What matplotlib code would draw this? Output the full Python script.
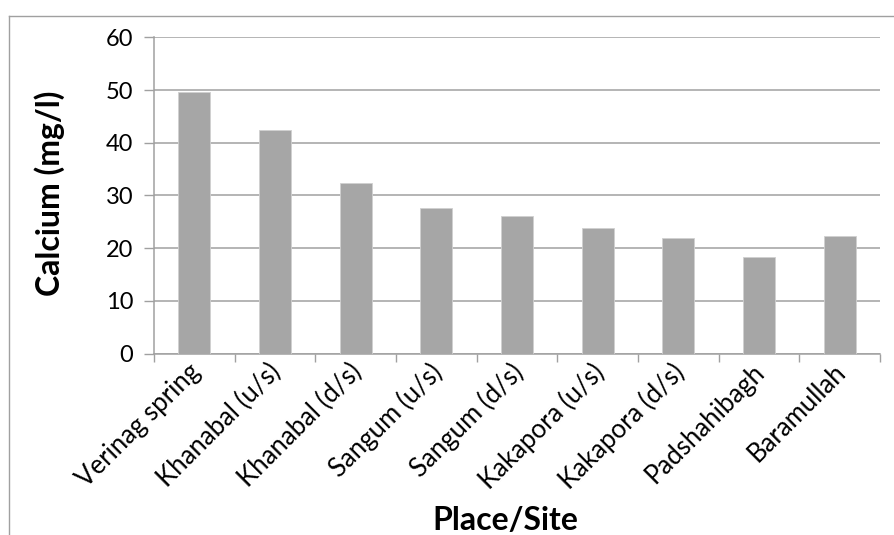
import matplotlib
matplotlib.use("Agg")
import matplotlib.pyplot as plt
from matplotlib.lines import Line2D

sites = ["Verinag spring", "Khanabal (u/s)", "Khanabal (d/s)", "Sangum (u/s)",
         "Sangum (d/s)", "Kakapora (u/s)", "Kakapora (d/s)", "Padshahibagh",
         "Baramullah"]
calcium = [49.6, 42.4, 32.3, 27.6, 26.1, 23.9, 21.9, 18.3, 22.3]
yticks = [0, 10, 20, 30, 40, 50, 60]

plt.rcParams['font.family'] = ['Lato', 'DejaVu Sans']

W, H = 895, 535
fig = plt.figure(figsize=(W / 100, H / 100), dpi=100)
ax = fig.add_axes([154 / W, 1 - 353.7 / H, (880 - 154) / W, (353.7 - 37.3) / H])

grid_c = "#A0A0A0"
x = list(range(len(sites)))
ax.bar(x, calcium, width=0.4, color="#A6A6A6", edgecolor="#D0D0D0",
       linewidth=0.6, zorder=3)

ax.set_xlim(-0.5, len(sites) - 0.5)
ax.set_ylim(0, 60)
ax.set_yticks(yticks)
ax.set_yticklabels([str(v) for v in yticks], fontsize=17)
ax.yaxis.grid(True, color=grid_c, linewidth=1.1, zorder=0)

# category boundary ticks on the x axis
ax.set_xticks([i - 0.5 for i in range(len(sites) + 1)])
ax.set_xticklabels([])
ax.tick_params(axis='x', length=6, width=1, color=grid_c, direction='out')
ax.tick_params(axis='y', length=7, width=1, color=grid_c, direction='out', pad=8)

for s in ['top', 'right']:
    ax.spines[s].set_visible(False)
for s in ['left', 'bottom']:
    ax.spines[s].set_color(grid_c)
    ax.spines[s].set_linewidth(1.1)

for i, name in enumerate(sites):
    ax.annotate(name, xy=(i, 0), xycoords='data', xytext=(-5, -4),
                textcoords='offset points', rotation=45, ha='right', va='top',
                rotation_mode='anchor', fontsize=18.5)

fig.text(50 / W, 1 - 193 / H, "Calcium (mg/l)", rotation=90, ha='center',
         va='center', fontsize=23, fontweight='bold')
fig.text(505 / W, 1 - 520 / H, "Place/Site", ha='center', va='center',
         fontsize=23, fontweight='bold')

# chart frame
fig.add_artist(Line2D([9.5 / W, 9.5 / W], [0, 1 - 15.5 / H], transform=fig.transFigure,
                      color="#A0A0A0", linewidth=1))
fig.add_artist(Line2D([9.5 / W, 1], [1 - 15.5 / H, 1 - 15.5 / H], transform=fig.transFigure,
                      color="#A0A0A0", linewidth=1))

fig.savefig("out.png", dpi=100, facecolor="white")
